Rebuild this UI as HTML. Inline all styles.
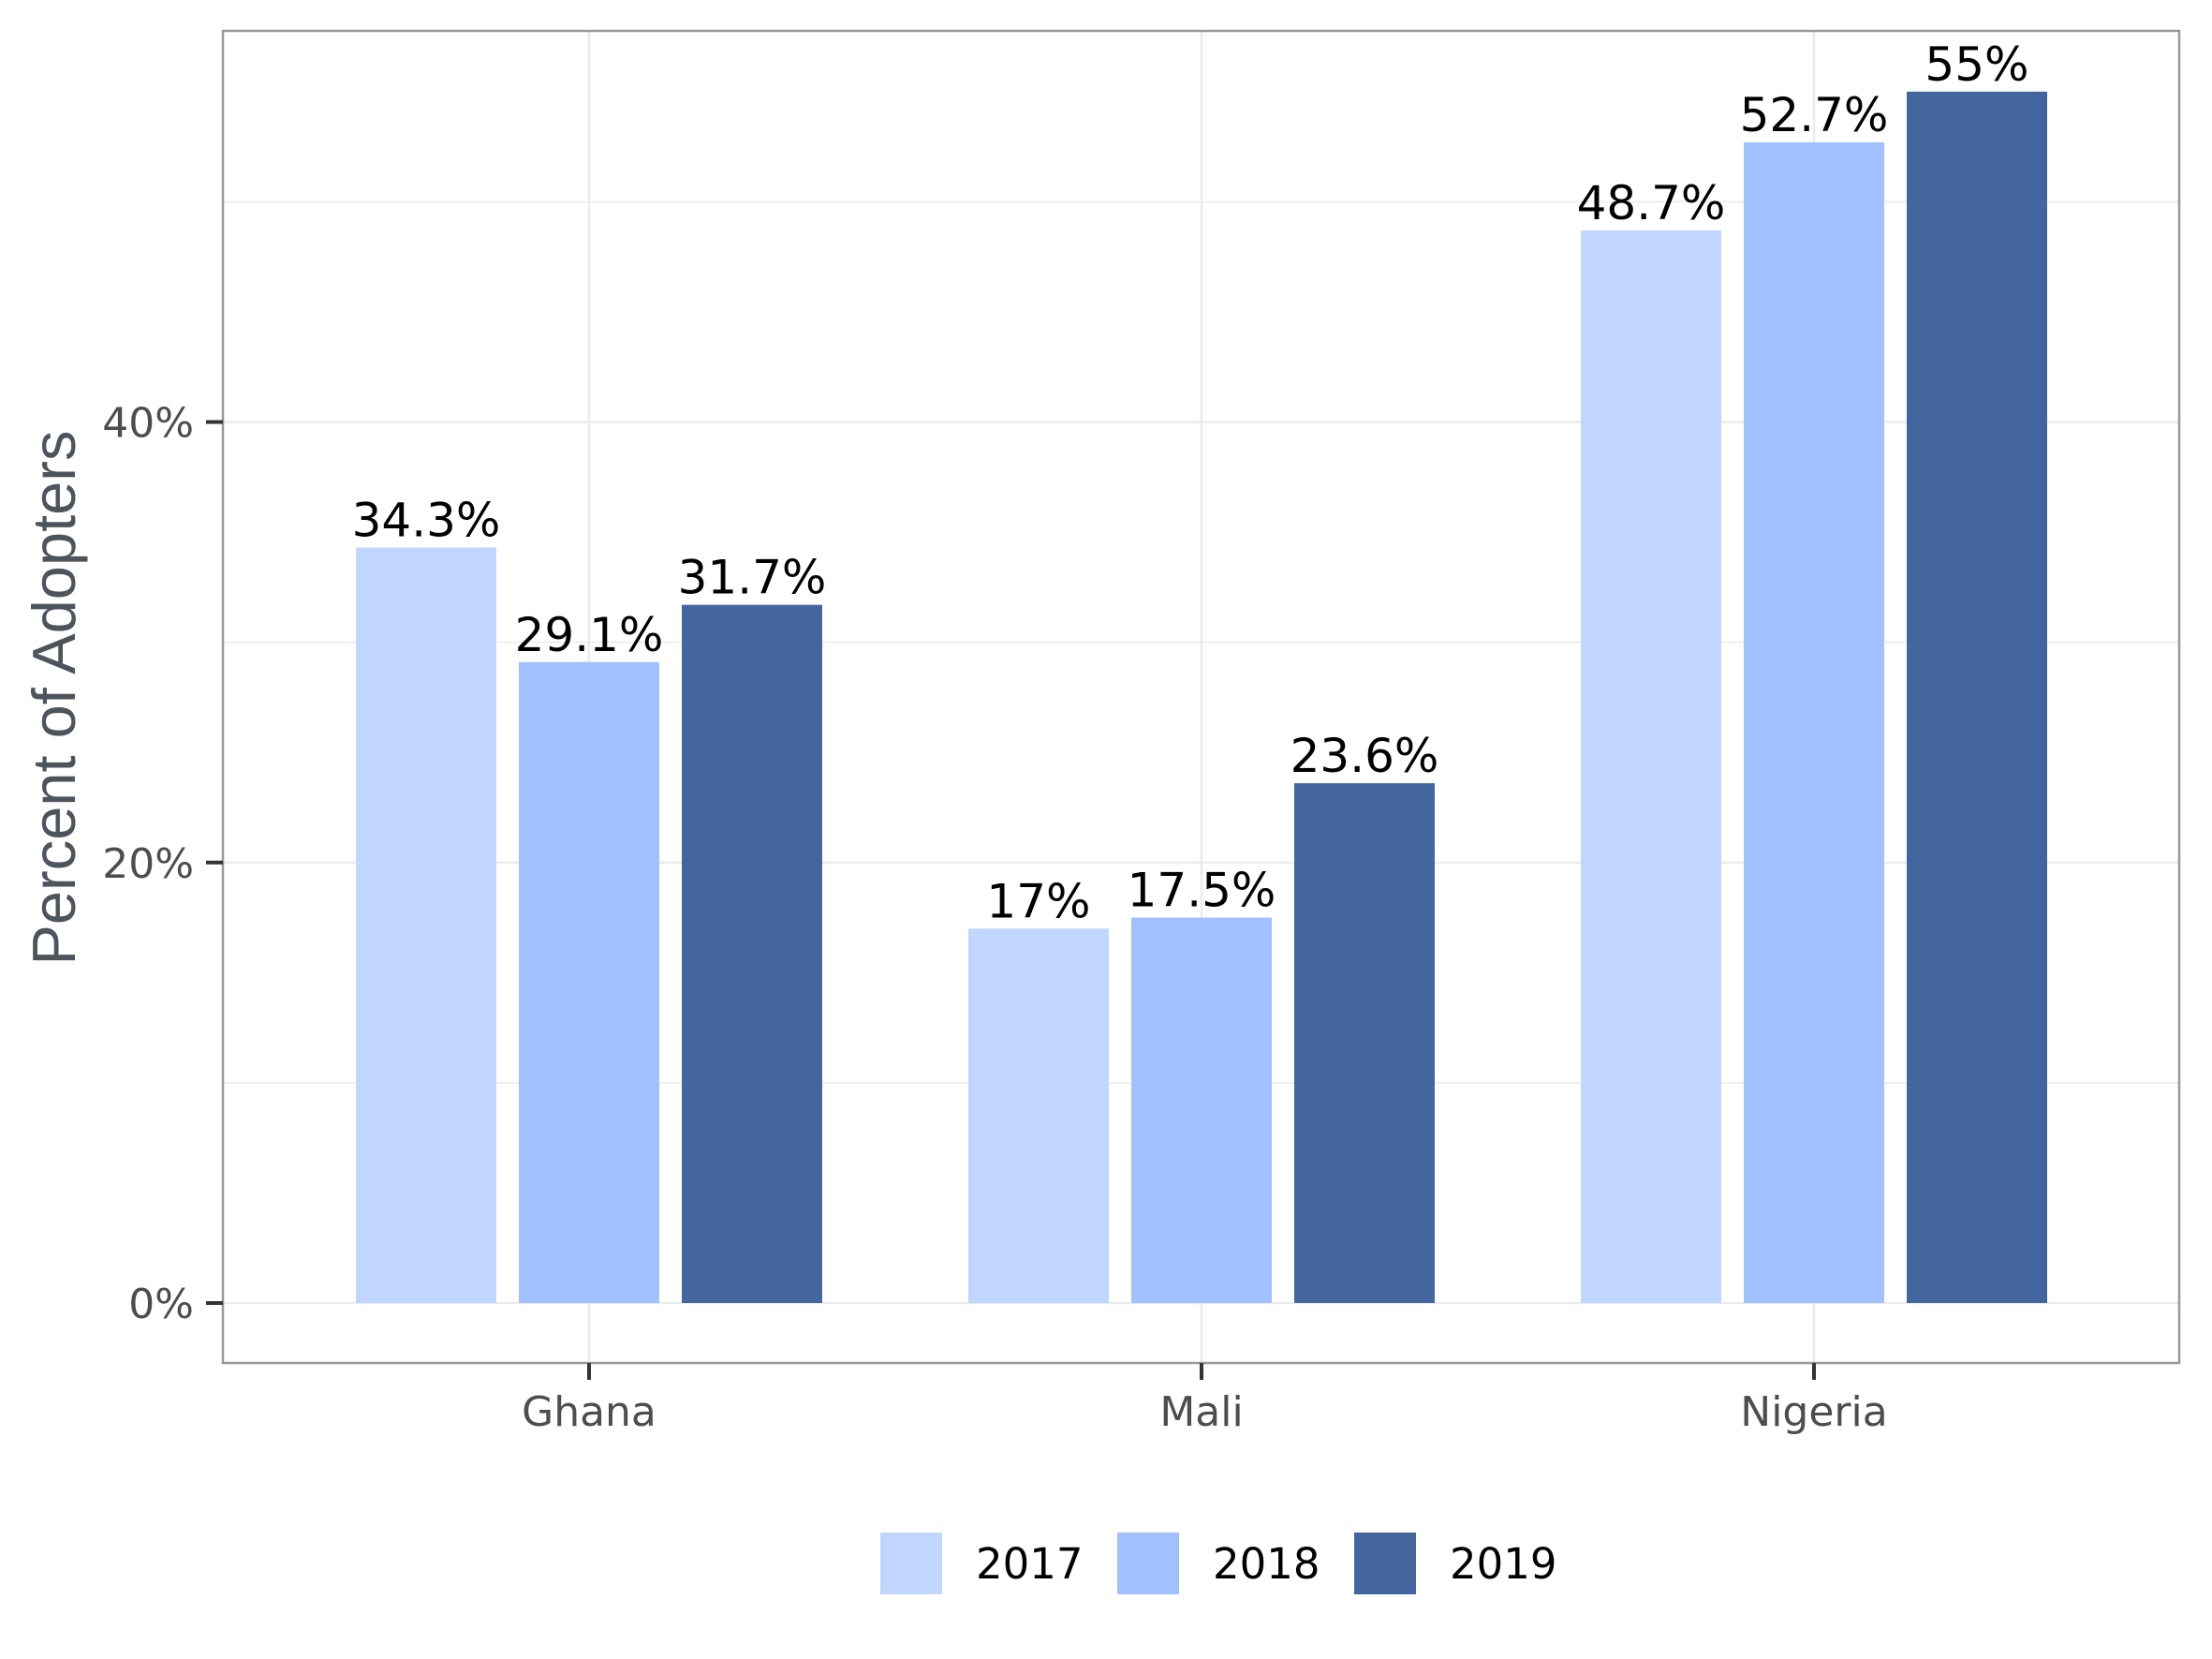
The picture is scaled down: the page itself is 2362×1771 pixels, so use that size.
<!DOCTYPE html>
<html><head><meta charset="utf-8">
<style>
html,body{margin:0;padding:0;background:#fff;}
svg{display:block;font-family:"DejaVu Sans","Liberation Sans",sans-serif;}
</style></head>
<body>
<svg id="chart" width="2362" height="1771" viewBox="0 0 2362 1771" xmlns="http://www.w3.org/2000/svg">
<rect x="0" y="0" width="2362" height="1771" fill="#fff"/>
<g id="grid"></g>
<g id="bars"></g>
<g id="labels"></g>
<rect x="238" y="33" width="2089" height="1422" fill="none" stroke="#999" stroke-width="2.5"/>
<g id="axes"></g>
<text x="0" y="0" transform="translate(80,745) rotate(-90)" text-anchor="middle" font-size="65" fill="#4d545c" font-family="Liberation Sans, sans-serif">Percent of Adopters</text>
<g id="legend"></g>
</svg>
<script>
const categories = ["Ghana","Mali","Nigeria"];
const years = ["2017","2018","2019"];
const v2017 = [34.3, 17, 48.7];
const v2018 = [29.1, 17.5, 52.7];
const v2019 = [31.7, 23.6, 55];
const yTicks = [0, 20, 40];
const yMinor = [10, 30, 50];

const NS="http://www.w3.org/2000/svg";
const colors=["#c1d6fe","#a0c1fd","#44669e"];
const series=[v2017,v2018,v2019];
const px0=238, px1=2327, py0=33, py1=1455;
const y0=1391, perUnit=(1391-450.5)/40;
function yScale(v){return y0 - v*perUnit;}
const groupW=654;
function xCenter(i){return 1283 + groupW*(i-1);}
const barW=150, step=174;
function mk(tag,attrs,parent){const e=document.createElementNS(NS,tag);for(const k in attrs)e.setAttribute(k,attrs[k]);parent.appendChild(e);return e;}
const grid=document.getElementById('grid'), bars=document.getElementById('bars'), labels=document.getElementById('labels'), axes=document.getElementById('axes'), legend=document.getElementById('legend');

yMinor.forEach(v=>{const l=mk('line',{x1:px0,x2:px1,y1:yScale(v),y2:yScale(v),stroke:'#ebebeb','stroke-width':1.5},grid);

});
yTicks.forEach(v=>{const l=mk('line',{x1:px0,x2:px1,y1:yScale(v),y2:yScale(v),stroke:'#ebebeb','stroke-width':2.5},grid);


const t=mk('line',{x1:220,x2:238,y1:yScale(v),y2:yScale(v),stroke:'#333','stroke-width':4},axes);


const tx=mk('text',{x:207,y:yScale(v)+16,'text-anchor':'end','font-size':44,fill:'#4d4d4d'},axes);
tx.textContent=v+'%';

});
categories.forEach((c,i)=>{const x=xCenter(i);
const g=mk('line',{x1:x,x2:x,y1:py0,y2:py1,stroke:'#ebebeb','stroke-width':2.5},grid);


const t=mk('line',{x1:x,x2:x,y1:py1,y2:py1+18,stroke:'#333','stroke-width':4},axes);


const tx=mk('text',{x:x,y:1522,'text-anchor':'middle','font-size':44,fill:'#4d4d4d'},axes);
tx.textContent=c;


series.forEach((s,j)=>{const cx=x+(j-1)*step;const v=s[i];
const r=mk('rect',{x:cx-barW/2,y:yScale(v),width:barW,height:y0-yScale(v),fill:colors[j]},bars);


const lb=mk('text',{x:cx,y:yScale(v)-12,'text-anchor':'middle','font-size':50,fill:'#000'},labels);
lb.textContent=v+'%';

});});
years.forEach((yr,j)=>{const kx=940+j*253;
const r=mk('rect',{x:kx,y:1636,width:66,height:66,fill:colors[j]},legend);


const t=mk('text',{x:kx+102,y:1685,'font-size':45,fill:'#000'},legend);
t.textContent=yr;

});
</script>
</body></html>
